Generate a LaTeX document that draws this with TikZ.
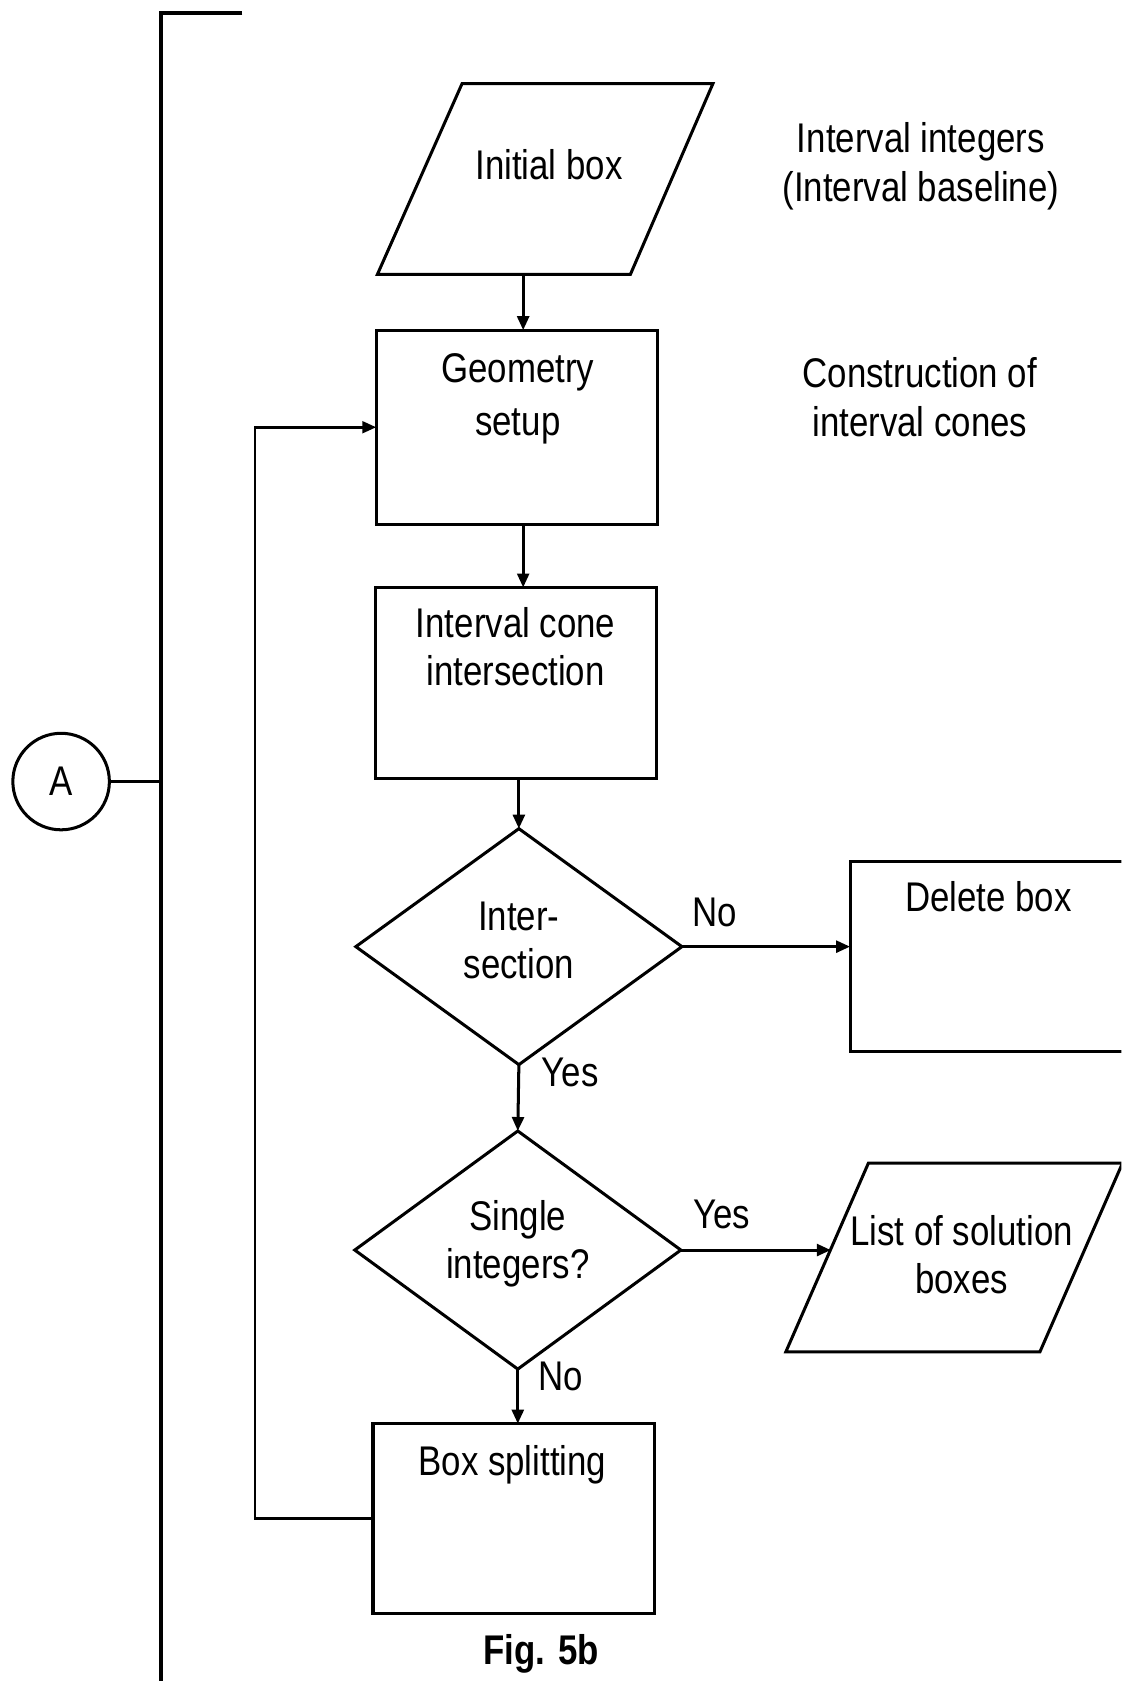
\documentclass[tikz,border=0pt]{standalone}
\usepackage{fontspec}
\setmainfont{Liberation Sans}[FakeStretch=0.84]
\usetikzlibrary{shapes.geometric,arrows.meta,calc}
\begin{document}
\begin{tikzpicture}[x=0.01cm,y=-0.01cm,
  every node/.style={inner sep=0pt, outer sep=0pt, font=\fontsize{11}{12.8}\selectfont, align=center},
  shp/.style={draw, line width=0.8pt, line join=miter},
  procbox/.style={shp, rectangle},
  decision/.style={shp, diamond, minimum width=3.04cm, minimum height=2.2cm},
  arr/.style={line width=0.8pt, -{Triangle[length=1.3mm,width=1.1mm]}},
  plain/.style={line width=0.8pt},
  txt/.style={}
]
\useasboundingbox (0,0) rectangle (1046,1568);
\clip (0,0) rectangle (1046,1568);

% input/output parallelograms
\draw[shp] (352,256) coordinate (ibBL) -- (431,78) coordinate (ibTL)
   -- (665,78) coordinate (ibTR) -- (588,256) coordinate (ibBR) -- cycle;
\draw[shp] (733,1261) coordinate (solBL) -- (810,1085) coordinate (solTL)
   -- (1047,1085) coordinate (solTR) -- (970,1261) coordinate (solBR) -- cycle;

% shapes
\node[procbox, minimum width=2.62cm, minimum height=1.81cm] (geo) at (482,398.5) {};
\node[procbox, minimum width=2.62cm, minimum height=1.78cm] (ici) at (481,637) {};
\node[decision] (d1) at (484,883) {};
\node[procbox, minimum width=2.67cm, minimum height=1.77cm] (del) at (926.5,892.5) {};
\node[decision, minimum height=2.22cm] (d2) at (483,1166) {};
\node[procbox, minimum width=2.62cm, minimum height=1.77cm] (bs) at (479,1416.5) {};
\node[shp, circle, minimum size=0.9cm] (A) at (57,729) {A};

% texts in shapes
\node[txt] (ib) at (512,154) {Initial box};
\node[txt] (tgeo) at (483,372) {Geometry\\[1.5pt]setup};
\node[txt] (tici) at (481,603.5) {Interval cone\\intersection};
\node[txt] (td1) at (484,877.5) {Inter-\\section};
\node[txt] (tdel) at (922,836) {Delete box};
\node[txt] (td2) at (483,1160) {Single\\integers?};
\node[txt] (sol) at (897,1170) {List of solution\\boxes};
\node[txt] (tbs) at (478,1366) {Box splitting};

% side notes
\node[txt] (n1) at (859,155) {Interval integers\\(Interval baseline)};
\node[txt] (n2) at (858,370.5) {Construction of\\interval cones};

% branch labels
\node[txt] (lno1) at (667,851) {No};
\node[txt] (lyes1) at (532,1000) {Yes};
\node[txt] (lyes2) at (673,1133) {Yes};
\node[txt] (lno2) at (523,1284) {No};
\node[txt, font=\fontsize{11}{12.8}\selectfont\bfseries] (fig) at (505,1543) {Fig. 5b};

% connectors
\coordinate (cx) at (488,0);
\draw[arr] (ibBL -| cx) -- (geo.north -| cx);
\draw[arr] (geo.south -| cx) -- (ici.north -| cx);
\draw[arr] (ici.south -| d1.north) -- (d1.north);
\draw[arr] (d1.east) -- (d1.east -| del.west);
\draw[arr] (d1.south) -- (d2.north);
\coordinate (solin) at ($(solBL)!0.545!(solTL)$);
\draw[arr] (d2.east) -- (d2.east -| solin);
\draw[arr] (d2.south) -- (bs.north -| d2.south);
\draw[line width=0.7pt, -{Triangle[length=1.3mm,width=1.1mm]}] (bs.west) -- ++(-110,0) |- (geo.west);

% bus line with connector A
\coordinate (bustop) at (150,12);
\coordinate (busend) at (226,12);
\coordinate (busbot) at (150,1580);
\draw[line width=1pt] (busend) -- (bustop) -- (busbot);
\draw[plain] (A.east) -- (A.east -| bustop);
\end{tikzpicture}
\end{document}
